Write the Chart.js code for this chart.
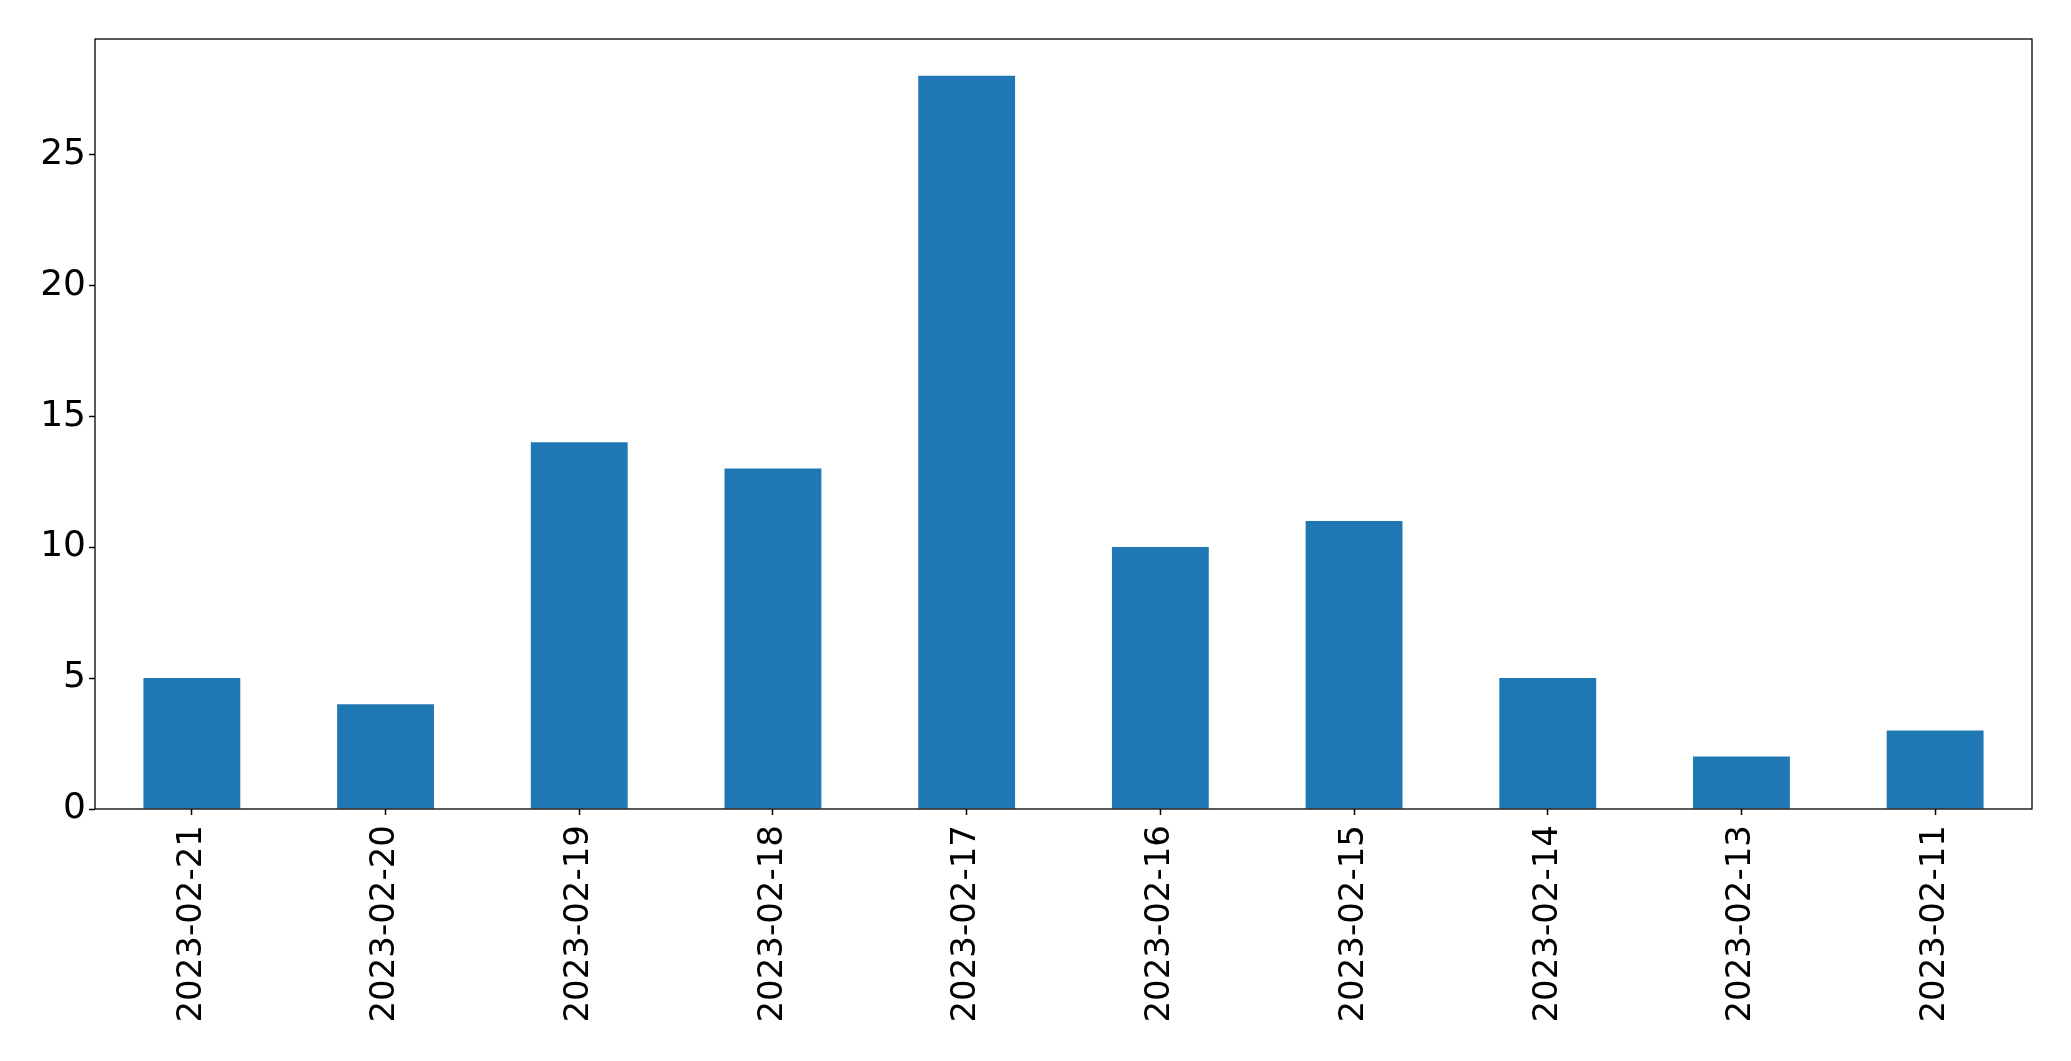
<!DOCTYPE html>
<html>
<head>
<meta charset="utf-8">
<script src="https://cdn.jsdelivr.net/npm/chart.js@4"></script>
<style>
    html, body { margin: 0; padding: 0; background: #fff; }
    #wrap { width: 2071px; height: 1061px; }
</style>
</head>
<body>
<div id="wrap"><canvas id="chart-days" width="2071" height="1061"></canvas></div>
<script>
'use strict';

var days = ['2023-02-21', '2023-02-20', '2023-02-19', '2023-02-18', '2023-02-17',
            '2023-02-16', '2023-02-15', '2023-02-14', '2023-02-13', '2023-02-11'];
var counts = [5, 4, 14, 13, 28, 10, 11, 5, 2, 3];
var y_ticks = [0, 5, 10, 15, 20, 25];

// draws the full box round the plot area, like matplotlib spines
var frame = {
    id: 'frame',
    afterDraw: function(chart) {
        var a = chart.chartArea;
        var c = chart.ctx;
        c.save();
        c.strokeStyle = '#000';
        c.lineWidth = 1.3;
        c.strokeRect(a.left, a.top, a.right - a.left, a.bottom - a.top);
        c.restore();
    }
};

var ctx_days = document.getElementById('chart-days').getContext('2d');

var chart_days = new Chart(ctx_days, {
    type: 'bar',
    data: {
        labels: days,
        datasets: [{
            data: counts,
            backgroundColor: '#1f77b4',
            borderWidth: 0,
            barPercentage: 0.5,
            categoryPercentage: 1.0
        }]
    },
    options: {
        responsive: false,
        animation: false,
        layout: {
            padding: { left: 0, right: 39, top: 39, bottom: 0 }
        },
        plugins: {
            legend: { display: false },
            tooltip: { enabled: false }
        },
        scales: {
            x: {
                offset: true,
                grid: {
                    display: true,
                    offset: false,
                    drawOnChartArea: false,
                    tickLength: 6,
                    tickColor: '#000',
                    tickWidth: 1.5
                },
                border: { display: false },
                ticks: {
                    color: '#000',
                    font: { family: 'DejaVu Sans', size: 34 },
                    minRotation: 90,
                    maxRotation: 90,
                    autoSkip: false,
                    padding: 10
                },
                afterFit: function(scale) { scale.height = 252; }
            },
            y: {
                min: 0,
                max: 29.4,
                grid: {
                    display: true,
                    drawOnChartArea: false,
                    tickLength: 6,
                    tickColor: '#000',
                    tickWidth: 1.5
                },
                border: { display: false },
                ticks: {
                    color: '#000',
                    font: { family: 'DejaVu Sans', size: 36 },
                    stepSize: 5,
                    includeBounds: false,
                    padding: 3
                },
                afterBuildTicks: function(scale) {
                    scale.ticks = y_ticks.map(function(v) { return { value: v }; });
                },
                afterFit: function(scale) { scale.width = 95; }
            }
        }
    },
    plugins: [frame]
});
</script>
</body>
</html>
